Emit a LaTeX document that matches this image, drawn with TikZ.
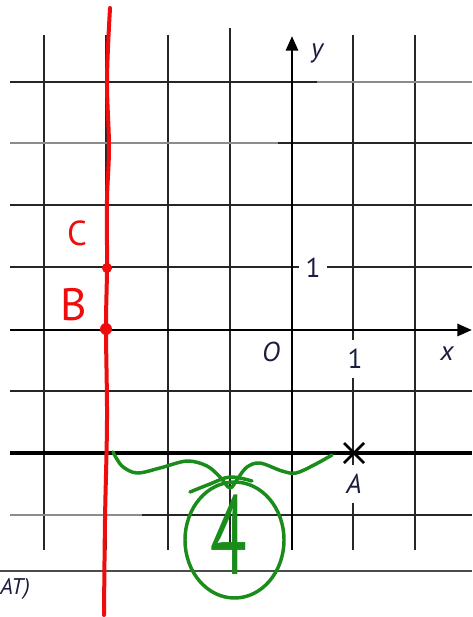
\documentclass[tikz,border=0pt]{standalone}
\usepackage{fontspec}
\setmainfont{PT Sans}
\usetikzlibrary{arrows.meta,shapes.geometric}
\definecolor{ink}{RGB}{28,28,62}
\definecolor{pen}{RGB}{238,12,12}
\definecolor{grn}{RGB}{25,140,25}
\begin{document}
\begin{tikzpicture}[x=0.75pt,y=-0.75pt,
  gridline/.style={line width=1pt,black!85},
  faint/.style={line width=1pt,black!45},
  axis/.style={line width=2.2pt,black,-{Triangle[length=11pt,width=9pt]}},
  lbl/.style={font=\fontsize{20.5}{24}\selectfont, text=ink, inner sep=1pt},
  redpen/.style={line width=3pt,pen,line cap=round,line join=round},
  greenpen/.style={line width=2.6pt,grn,line cap=round,line join=round}]
\useasboundingbox (0,0) rectangle (472,617);
\fill[white] (0,0) rectangle (472,617);
% vertical grid lines
\foreach \x in {44,106,168,353,415} \draw[gridline] (\x,35) -- (\x,550);
\draw[gridline] (230,28) -- (230,548);
% horizontal grid lines
\draw[gridline] (10,82) -- (317,82);
\draw[faint] (317,82) -- (472,82);
\draw[faint] (10,143) -- (278,143);
\draw[gridline] (278,143) -- (472,143);
\foreach \y in {205,267,391} \draw[gridline] (10,\y) -- (472,\y);
\draw[faint] (10,515) -- (142,515);
\draw[gridline] (142,515) -- (472,515);
\draw[line width=2.4pt] (10,453) -- (472,453);
\draw[line width=0.8pt,black!70] (0,571) -- (472,571);
% axes
\draw[axis] (10,330) -- (472,330);
\draw[axis] (292,550) -- (292,36);
% labels
\node[lbl,fill=white,inner xsep=2pt,inner ysep=7pt] (onex) at (355,359) {1};
\node[lbl,fill=white,inner xsep=5pt,inner ysep=2pt] (oney) at (313,268) {1};
\node[lbl,fill=white,inner xsep=2pt,inner ysep=7pt] (A) at (354,484) {\itshape A};
\node[lbl] (O) at (271,352) {\itshape O};
\node[lbl] (xl) at (447,354) {\itshape x};
\node[lbl] (yl) at (317,53) {\itshape y};
\node[lbl,anchor=west,inner sep=0pt,font=\fontsize{17}{20}\selectfont\itshape] (cat) at (0,589) {AT)};
% point A cross
\coordinate (Apt) at (354,453);
\draw[line width=2pt] ([shift={(-10,-10)}]Apt) -- ([shift={(10,10)}]Apt)
  ([shift={(-10,10)}]Apt) -- ([shift={(10,-10)}]Apt);
% red annotations
\draw[redpen] plot[smooth,tension=0.6] coordinates {(110,8) (107,80) (109,147) (107,200) (107,268) (106,329) (107,420) (105,520) (104,615)};
\coordinate (Cpt) at (107,268);
\coordinate (Bpt) at (106,329);
\fill[pen] (Cpt) circle[radius=3.8pt];
\fill[pen] (Bpt) circle[radius=4.5pt];
\node[text=pen,font=\fontsize{26}{30}\selectfont] (C) at (77,233) {C};
\node[text=pen,font=\fontsize{34}{38}\selectfont] (B) at (74,305) {B};
% green annotations
\draw[greenpen] plot[smooth,tension=0.55] coordinates {(113,452) (122,466) (137,473) (160,468) (187,461) (207,466) (220,477) (230,488) (238,478) (247,467) (260,463) (282,471) (296,473) (314,465) (332,455)};
\draw[greenpen] plot[smooth,tension=0.6] coordinates {(190,492) (210,484) (230,477) (252,481)};
\node[draw=grn,line width=2.6pt,ellipse,minimum width=99*0.75pt,minimum height=116*0.75pt,inner sep=0pt] (ring) at (234.5,540) {};
\node[text=grn,font=\fontsize{84}{84}\selectfont,xscale=0.6,inner sep=0pt] (four) at (229,535) {4};
\end{tikzpicture}
\end{document}
